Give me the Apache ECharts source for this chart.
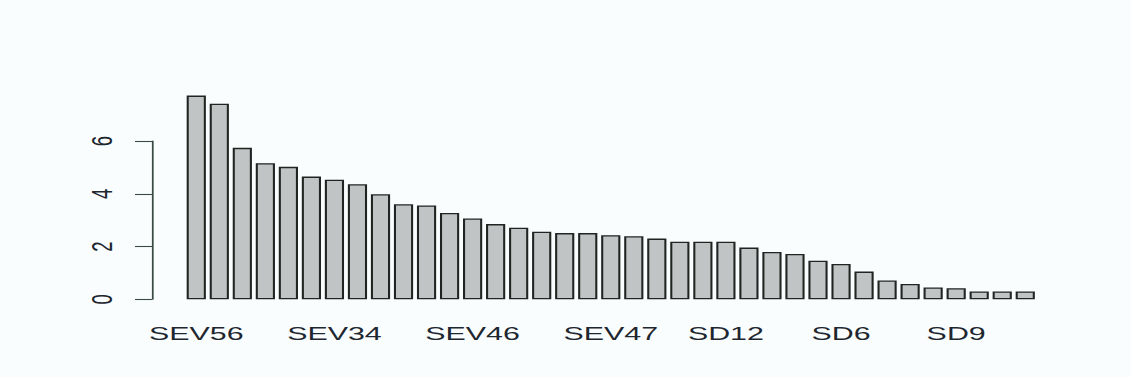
<!DOCTYPE html>
<html>
<head>
<meta charset="utf-8">
<script src="https://cdn.jsdelivr.net/npm/echarts@6/dist/echarts.min.js"></script>
<style>
  html, body { margin: 0; padding: 0; background: #f9fdfd; overflow: hidden; }
  /* the plot is laid out narrow and stretched sideways, like a resized R device */
  #chart { width: 707px; height: 377px; transform: scaleX(1.5997); transform-origin: 0 0; }
</style>
</head>
<body>
<div id="chart"></div>
<script>
// sample names; only the ones that fit are printed under the bars
const categories = [
  'SEV56', '', '', '', '', '', 'SEV34', '', '', '', '', '', 'SEV46', '', '', '', '', '', 'SEV47',
  '', '', '', '', 'SD12', '', '', '', '', 'SD6', '', '', '', '', 'SD9', '', '', ''
];
const values = [
  7.72, 7.41, 5.74, 5.16, 5.02, 4.65, 4.53, 4.36, 3.98, 3.60, 3.56, 3.27, 3.06, 2.85, 2.71, 2.56,
  2.51, 2.51, 2.43, 2.39, 2.30, 2.18, 2.18, 2.18, 1.96, 1.79, 1.72, 1.46, 1.34, 1.05, 0.71, 0.58,
  0.45, 0.42, 0.30, 0.30, 0.30
];
const yTicks = [0, 2, 4, 6];

const chart = echarts.init(document.getElementById('chart'), null, { renderer: 'svg' });
const font = '"Liberation Sans", Arial, sans-serif';
chart.setOption({
  backgroundColor: '#f9fdfd',
  animation: false,
  grid: { left: 115.5, right: 58.9, top: 141, bottom: 77.7 },
  xAxis: {
    type: 'category',
    data: categories,
    axisLine: { show: false },
    axisTick: { show: false },
    axisLabel: {
      interval: (i, name) => name !== '',
      margin: 24,
      fontSize: 19,
      fontFamily: font,
      color: '#1e2630'
    }
  },
  yAxis: {
    type: 'value',
    min: yTicks[0],
    max: yTicks[yTicks.length - 1],
    interval: 2,
    offset: 20.5,
    splitLine: { show: false },
    axisLine: { show: true, lineStyle: { color: '#3c4a44', width: 1.1 } },
    axisTick: { show: true, length: 10.6, lineStyle: { color: '#3c4a44', width: 1.1 } },
    axisLabel: {
      rotate: 90,
      margin: 22,
      fontSize: 18.5,
      fontFamily: font,
      color: '#1e2630'
    }
  },
  series: [{
    type: 'bar',
    data: values,
    clip: false,
    barCategoryGap: '16.67%',
    itemStyle: { color: '#c1c4c4', borderColor: '#1f2622', borderWidth: 1.3 }
  }]
});
</script>
</body>
</html>
